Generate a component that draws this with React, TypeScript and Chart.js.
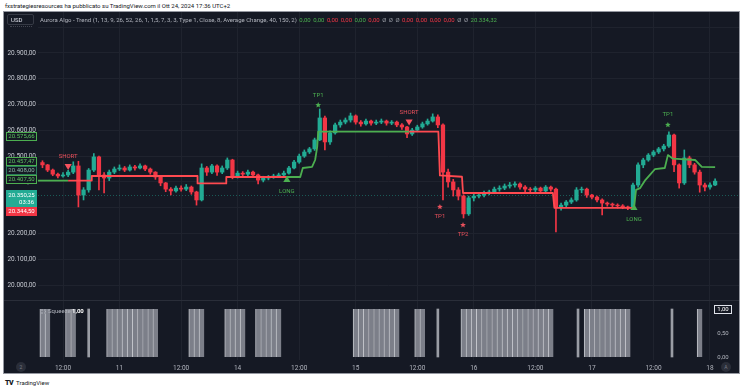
import React, { useEffect, useRef } from 'react';
import { Chart, registerables } from 'chart.js';

Chart.register(...registerables);

const FONT = 'Roboto, "Noto Sans", "DejaVu Sans", sans-serif';
const BG = '#151924';
const GRID = '#1f232e';
const TEXT = '#b2b5be';
const UP = '#22ab94';
const DOWN = '#f23645';
const LINE_GREEN = '#4caf50';
const LINE_RED = '#ff4a50';

// ---------------- data ----------------
// trading-hour index: 0 = Oct 10 12:00 (1h candles)
const firstHour = -4;
const firstOpen = 20475;
const closes = [
  20466, 20446, 20430, 20423, 20427, 20438, 20462, 20349, 20369, 20446,
  20497, 20427, 20415, 20438, 20450, 20454, 20446, 20458, 20454, 20462,
  20450, 20438, 20419, 20396, 20372, 20365, 20376, 20372, 20380, 20361,
  20330, 20454, 20438, 20462, 20438, 20454, 20485, 20423, 20434, 20430,
  20438, 20427, 20407, 20415, 20419, 20423, 20427, 20434, 20454, 20477,
  20500, 20516, 20528, 20563, 20648, 20555, 20590, 20621, 20632, 20640,
  20656, 20632, 20625, 20636, 20628, 20632, 20636, 20628, 20632, 20621,
  20613, 20586, 20601, 20613, 20625, 20636, 20652, 20621, 20438, 20400,
  20369, 20345, 20276, 20338, 20345, 20349, 20357, 20361, 20372, 20376,
  20384, 20388, 20392, 20380, 20372, 20369, 20376, 20365, 20380, 20372,
  20303, 20310, 20322, 20330, 20369, 20372, 20349, 20341, 20330, 20318,
  20314, 20310, 20307, 20303, 20299, 20388, 20466, 20485, 20504, 20516,
  20528, 20539, 20582, 20466, 20396, 20493, 20466, 20438, 20388, 20380,
  20388, 20403,
];
const highs = [
  20482, 20468, 20450, 20434, 20436, 20445, 20478, 20480, 20378, 20452,
  20510, 20500, 20436, 20446, 20458, 20466, 20460, 20466, 20464, 20470,
  20465, 20454, 20440, 20422, 20398, 20378, 20384, 20385, 20390, 20384,
  20364, 20470, 20460, 20468, 20466, 20462, 20493, 20488, 20442, 20440,
  20446, 20442, 20430, 20422, 20425, 20430, 20434, 20442, 20460, 20484,
  20508, 20524, 20534, 20570, 20683, 20655, 20598, 20628, 20640, 20648,
  20667, 20660, 20638, 20644, 20640, 20640, 20644, 20640, 20638, 20636,
  20626, 20616, 20608, 20620, 20632, 20644, 20664, 20660, 20625, 20450,
  20410, 20378, 20350, 20345, 20352, 20356, 20364, 20368, 20380, 20385,
  20392, 20398, 20400, 20396, 20386, 20378, 20382, 20380, 20386, 20384,
  20376, 20318, 20328, 20338, 20378, 20380, 20376, 20352, 20345, 20334,
  20322, 20318, 20315, 20312, 20306, 20395, 20474, 20492, 20510, 20522,
  20534, 20546, 20594, 20586, 20470, 20524, 20500, 20472, 20446, 20395,
  20396, 20412,
];
const lows = [
  20455, 20440, 20424, 20415, 20418, 20420, 20432, 20303, 20330, 20360,
  20440, 20369, 20357, 20405, 20432, 20444, 20440, 20442, 20446, 20450,
  20444, 20430, 20410, 20385, 20362, 20350, 20360, 20364, 20366, 20352,
  20310, 20326, 20425, 20432, 20425, 20432, 20448, 20412, 20415, 20420,
  20424, 20418, 20392, 20400, 20408, 20414, 20418, 20422, 20430, 20450,
  20472, 20495, 20510, 20522, 20560, 20524, 20545, 20585, 20612, 20625,
  20632, 20624, 20616, 20620, 20620, 20622, 20626, 20620, 20622, 20614,
  20604, 20572, 20580, 20596, 20608, 20620, 20632, 20610, 20330, 20380,
  20345, 20330, 20260, 20270, 20326, 20338, 20342, 20350, 20356, 20364,
  20370, 20376, 20380, 20372, 20362, 20356, 20362, 20356, 20360, 20364,
  20206, 20290, 20302, 20316, 20325, 20358, 20340, 20334, 20322, 20272,
  20306, 20300, 20298, 20296, 20292, 20295, 20380, 20455, 20480, 20498,
  20510, 20520, 20534, 20440, 20376, 20390, 20455, 20430, 20360, 20365,
  20372, 20385,
];

const timeTickHours = [0, 11, 23, 34, 46, 57, 69, 80, 92, 103, 115, 126];
const timeTickLabels = ['12:00', '11', '12:00', '14', '12:00', '15', '12:00', '16', '12:00', '17', '12:00', '18'];

const priceTicks = [20000, 20100, 20200, 20300, 20400, 20500, 20600, 20700, 20800, 20900, 21000];
const priceTickLabels = [
  '20.000,00', '20.100,00', '20.200,00', '20.300,00', '20.400,00',
  '20.500,00', '20.600,00', '20.700,00', '20.800,00', '20.900,00', '',
];

// Trend line (hour index, price, direction 1 = long / -1 = short)
const trendT = [-4.9, 1, 5.6, 5.6, 26.2, 26.2, 31.8, 31.8, 43.6, 46.2, 46.7, 48.5, 49.1, 49.5, 49.7,
  67.4, 73.1, 73.4, 77.7, 77.9, 95.4, 95.7, 111.2, 111.6, 112.4, 113.4, 114.3, 115.3, 117.2, 117.8,
  118.8, 123.1, 124.4, 127];
const trendV = [20405, 20405, 20405, 20423, 20423, 20394, 20394, 20419, 20419, 20419, 20454, 20458, 20485, 20535, 20595,
  20595, 20595, 20425, 20420, 20357, 20357, 20299, 20299, 20369, 20376, 20407, 20427, 20450, 20454, 20504,
  20490, 20485, 20458, 20457.47];
const trendDir = [1, -1, -1, -1, -1, -1, -1, -1, 1, 1, 1, 1, 1, 1, 1,
  -1, -1, -1, -1, -1, -1, -1, 1, 1, 1, 1, 1, 1, 1, 1,
  1, 1, 1, 1];

const signalT = [1, 43.6, 67.4, 111.2];
const signalV = [20458, 20411, 20630, 20303];
const signalKind = ['SHORT', 'LONG', 'SHORT', 'LONG'];

const tpT = [49.7, 73.4, 77.9, 117.8];
const tpV = [20698, 20303, 20233, 20621];
const tpLabel = ['TP1', 'TP1', 'TP2', 'TP1'];
const tpDir = [1, -1, -1, 1];

const squeezeFrom = [-4, 1, 9, 25, 32, 38, 57, 69, 78, 102, 124];
const squeezeTo = [-3, 2, 18, 27, 35, 42, 65, 70, 95, 110, 124];
const squeezeThin = [5, 73, 100.3, 118.6];
const subTicks = [0, 0.5, 1];
const subTickLabels = ['0,00', '0,50', '1,00'];

const scaleLabelValues = [20575.66, 20457.47, 20408.0, 20407.5];
const scaleLabelText = ['20.575,66', '20.457,47', '20.408,00', '20.407,50'];
const lastPrice = 20350.25;
const lastPriceText = '20.350,25';
const countdownText = '03:36';
const bidPrice = 20344.5;
const bidText = '20.344,50';

const legendTitle = 'Aurora Algo - Trend (1, 13, 9, 26, 52, 26, 1, 1,5, 7, 3, 3, Type 1, Close, 8, Average Change, 40, 150, 2)';
const legendValues = ['0,00', '0,00', '0,00', '0,00', '0,00', '0,00', 'Ø', 'Ø', 'Ø', '0,00', '0,00', '0,00', '0,00', 'Ø', 'Ø', '20.334,32'];
const legendTone = [1, 1, -1, -1, 1, -1, 0, 0, 0, -1, -1, -1, -1, 0, 0, 1];

// styles (not data)
const scaleLabelStroke = [LINE_GREEN, LINE_GREEN, '#2b7a5c', LINE_GREEN];
const scaleLabelColor = ['#5cc160', '#5cc160', '#8fb9aa', '#5cc160'];
const X_MIN = -4.87;
const X_MAX = 131.65;
const Y_MIN = 19942;
const Y_MAX = 21059;

function starPath(ctx: CanvasRenderingContext2D, cx: number, cy: number, r: number) {
  ctx.beginPath();
  for (let k = 0; k < 10; k++) {
    const rad = k % 2 === 0 ? r : r * 0.45;
    const a = -Math.PI / 2 + (k * Math.PI) / 5;
    const px = cx + Math.cos(a) * rad;
    const py = cy + Math.sin(a) * rad;
    if (k === 0) ctx.moveTo(px, py);
    else ctx.lineTo(px, py);
  }
  ctx.closePath();
}

export default function App() {
  const mainRef = useRef<HTMLCanvasElement>(null);
  const subRef = useRef<HTMLCanvasElement>(null);

  useEffect(() => {
    Chart.defaults.font.family = FONT;
    const hours = closes.map((_, i) => firstHour + i);
    const opens = closes.map((_, i) => (i === 0 ? firstOpen : closes[i - 1]));
    const candleColor = (i: number) => (closes[i] >= opens[i] ? UP : DOWN);

    const mainOverlay = {
      id: 'mainOverlay',
      beforeDatasetsDraw(chart: any) {
        const { ctx, chartArea, scales } = chart;
        const py = Math.round(scales.y.getPixelForValue(lastPrice)) + 0.5;
        ctx.save();
        ctx.strokeStyle = 'rgba(34,171,148,0.45)';
        ctx.lineWidth = 1;
        ctx.setLineDash([1, 2]);
        ctx.beginPath();
        ctx.moveTo(chartArea.left, py);
        ctx.lineTo(chartArea.right, py);
        ctx.stroke();
        ctx.restore();
      },
      afterDatasetsDraw(chart: any) {
        const { ctx, scales } = chart;
        const xs = scales.x;
        const ys = scales.y;
        ctx.save();
        ctx.font = `6px ${FONT}`;
        ctx.textAlign = 'center';
        ctx.textBaseline = 'middle';
        signalT.forEach((t, i) => {
          const px = xs.getPixelForValue(t);
          const py = ys.getPixelForValue(signalV[i]);
          ctx.beginPath();
          if (signalKind[i] === 'SHORT') {
            ctx.fillStyle = '#f7525f';
            ctx.moveTo(px - 3.6, py - 3);
            ctx.lineTo(px + 3.6, py - 3);
            ctx.lineTo(px, py + 3);
            ctx.closePath();
            ctx.fill();
            ctx.fillStyle = '#e8505b';
            ctx.fillText('SHORT', px, py - 10);
          } else {
            ctx.fillStyle = LINE_GREEN;
            ctx.moveTo(px - 3.6, py + 3);
            ctx.lineTo(px + 3.6, py + 3);
            ctx.lineTo(px, py - 3);
            ctx.closePath();
            ctx.fill();
            ctx.fillText('LONG', px, py + 12.5);
          }
        });
        tpT.forEach((t, i) => {
          const px = xs.getPixelForValue(t);
          const py = ys.getPixelForValue(tpV[i]);
          const col = tpDir[i] > 0 ? LINE_GREEN : '#e8505b';
          ctx.fillStyle = col;
          starPath(ctx, px, py, 3);
          ctx.fill();
          ctx.fillText(tpLabel[i], px, tpDir[i] > 0 ? py - 10 : py + 10);
        });
        ctx.restore();
      },
      afterDraw(chart: any) {
        const { ctx, scales } = chart;
        const ys = scales.y;
        const x0 = 2;
        const w = 31;
        ctx.save();
        ctx.font = `6px ${FONT}`;
        ctx.textAlign = 'center';
        ctx.textBaseline = 'middle';
        const pyLast = ys.getPixelForValue(lastPrice);
        const curTop = pyLast - 5;
        const curBottom = pyLast + 12;
        const order = scaleLabelValues.map((_, i) => i).sort((a, b) => scaleLabelValues[a] - scaleLabelValues[b]);
        let limit = curTop;
        order.forEach((i) => {
          const yc = Math.min(ys.getPixelForValue(scaleLabelValues[i]), limit - 4.5);
          limit = yc - 4.5;
          const top = Math.round(yc - 4.5);
          ctx.fillStyle = BG;
          ctx.fillRect(x0, top, w, 9);
          ctx.strokeStyle = scaleLabelStroke[i];
          ctx.lineWidth = 1;
          ctx.strokeRect(x0 + 0.5, top + 0.5, w - 1, 8);
          ctx.fillStyle = scaleLabelColor[i];
          ctx.fillText(scaleLabelText[i], x0 + w / 2, top + 4.8);
        });
        ctx.fillStyle = UP;
        ctx.fillRect(x0, Math.round(curTop), w, 17);
        ctx.fillStyle = '#ffffff';
        ctx.fillText(lastPriceText, x0 + w / 2, Math.round(curTop) + 5);
        ctx.textAlign = 'right';
        ctx.fillText(countdownText, x0 + w - 3, Math.round(curTop) + 12.5);
        ctx.textAlign = 'center';
        const bidTop = Math.round(Math.max(ys.getPixelForValue(bidPrice) - 4.5, curBottom));
        ctx.fillStyle = DOWN;
        ctx.fillRect(x0, bidTop, w, 9);
        ctx.fillStyle = '#ffffff';
        ctx.fillText(bidText, x0 + w / 2, bidTop + 4.8);
        ctx.restore();
      },
    };

    const main = new Chart(mainRef.current as HTMLCanvasElement, {
      type: 'bar',
      data: {
        datasets: [
          {
            type: 'line',
            data: trendT.map((t, i) => ({ x: t, y: trendV[i] })),
            borderColor: LINE_GREEN,
            borderWidth: 1.8,
            pointRadius: 0,
            tension: 0,
            borderJoinStyle: 'round',
            segment: {
              borderColor: (c: any) => (trendDir[c.p0DataIndex] > 0 ? LINE_GREEN : LINE_RED),
            },
            order: 1,
          } as any,
          {
            type: 'bar',
            data: hours.map((t, i) => ({ x: t, y: [opens[i], closes[i]] })),
            backgroundColor: (c: any) => candleColor(c.dataIndex),
            barThickness: 3.6,
            stack: 'c',
            order: 2,
          } as any,
          {
            type: 'bar',
            data: hours.map((t, i) => ({ x: t, y: [lows[i], highs[i]] })),
            backgroundColor: (c: any) => candleColor(c.dataIndex),
            barThickness: 1,
            stack: 'c',
            order: 3,
          } as any,
        ],
      },
      options: {
        responsive: false,
        maintainAspectRatio: false,
        devicePixelRatio: 1,
        animation: false,
        events: [],
        layout: { padding: 0 },
        plugins: { legend: { display: false }, tooltip: { enabled: false } },
        scales: {
          x: {
            type: 'linear',
            min: X_MIN,
            max: X_MAX,
            offset: false,
            display: true,
            afterBuildTicks: (s: any) => {
              s.ticks = timeTickHours.map((v) => ({ value: v }));
            },
            ticks: { display: false },
            grid: { color: GRID, drawTicks: false, offset: false },
            border: { display: false },
            afterFit: (s: any) => {
              s.height = 0;
              s.paddingLeft = 0;
              s.paddingRight = 0;
            },
          },
          y: {
            type: 'linear',
            position: 'left',
            min: Y_MIN,
            max: Y_MAX,
            stacked: false,
            afterBuildTicks: (s: any) => {
              s.ticks = priceTicks.map((v) => ({ value: v }));
            },
            ticks: {
              callback: (_v: any, idx: number) => priceTickLabels[idx],
              color: '#c3c6ce',
              font: { size: 6.5, family: FONT },
              padding: 2,
            },
            grid: { color: GRID, drawTicks: false },
            border: { display: false },
            afterFit: (s: any) => {
              s.width = 34;
              s.paddingTop = 0;
              s.paddingBottom = 0;
            },
          },
        },
      } as any,
      plugins: [mainOverlay],
    });

    const squeezeOn: number[] = [];
    squeezeFrom.forEach((s, k) => {
      for (let h = s; h <= squeezeTo[k]; h++) squeezeOn.push(h);
    });

    const subOverlay = {
      id: 'subOverlay',
      afterDraw(chart: any) {
        const { ctx, scales } = chart;
        const ys = scales.y;
        ctx.save();
        ctx.strokeStyle = '#2a2e39';
        ctx.lineWidth = 1;
        ctx.beginPath();
        ctx.moveTo(0, 0.5);
        ctx.lineTo(chart.width, 0.5);
        ctx.stroke();
        ctx.font = `6px ${FONT}`;
        ctx.textBaseline = 'middle';
        ctx.textAlign = 'center';
        subTicks.forEach((v, i) => {
          const py = ys.getPixelForValue(v);
          if (i === subTicks.length - 1) {
            ctx.fillStyle = BG;
            ctx.fillRect(710, Math.round(py) - 4, 18, 9);
            ctx.strokeStyle = '#e0e3eb';
            ctx.strokeRect(710.5, Math.round(py) - 3.5, 17, 8);
            ctx.fillStyle = '#ffffff';
            ctx.fillText(subTickLabels[i], 719, Math.round(py) + 0.8);
          } else {
            ctx.fillStyle = TEXT;
            ctx.fillText(subTickLabels[i], 719, py);
          }
        });
        ctx.fillStyle = '#9598a1';
        ctx.fillRect(37, 9, 2, 2);
        ctx.fillRect(40, 9, 2, 2);
        ctx.fillRect(37, 12, 2, 2);
        ctx.fillRect(40, 12, 2, 2);
        ctx.textAlign = 'left';
        ctx.fillStyle = TEXT;
        ctx.fillText('Squeeze', 44, 11);
        ctx.fillStyle = '#ffffff';
        ctx.font = `bold 6px ${FONT}`;
        ctx.fillText('1,00', 68, 11);
        ctx.restore();
      },
    };

    const sub = new Chart(subRef.current as HTMLCanvasElement, {
      type: 'bar',
      data: {
        datasets: [
          {
            data: squeezeOn.map((h) => ({ x: h, y: 1 })),
            backgroundColor: '#7c7f89',
            borderColor: '#c4c6cc',
            borderWidth: { left: 1, right: 0, top: 0, bottom: 0 },
            borderSkipped: false,
            barThickness: 5.2,
            stack: 's',
          } as any,
          {
            data: squeezeThin.map((h) => ({ x: h, y: 1 })),
            backgroundColor: '#9a9da5',
            barThickness: 2,
            stack: 's',
          } as any,
        ],
      },
      options: {
        responsive: false,
        maintainAspectRatio: false,
        devicePixelRatio: 1,
        animation: false,
        events: [],
        layout: { padding: { left: 34, right: 0, top: 0, bottom: 0 } },
        plugins: { legend: { display: false }, tooltip: { enabled: false } },
        scales: {
          x: {
            type: 'linear',
            min: X_MIN,
            max: X_MAX,
            offset: false,
            afterBuildTicks: (s: any) => {
              s.ticks = timeTickHours.map((v) => ({ value: v }));
            },
            ticks: {
              callback: (_v: any, idx: number) => timeTickLabels[idx],
              color: TEXT,
              font: { size: 6.5, family: FONT },
              maxRotation: 0,
              autoSkip: false,
              padding: 4,
            },
            grid: { color: GRID, drawTicks: false, offset: false },
            border: { display: false },
            afterFit: (s: any) => {
              s.height = 13;
              s.paddingLeft = 0;
              s.paddingRight = 0;
            },
          },
          y: {
            type: 'linear',
            display: false,
            min: -0.0625,
            max: 1.1875,
            stacked: false,
          },
        },
      } as any,
      plugins: [subOverlay],
    });

    return () => {
      main.destroy();
      sub.destroy();
    };
  }, []);

  const toneColor = (t: number) => (t > 0 ? '#4caf50' : t < 0 ? '#f23645' : '#9598a1');

  return (
    <div
      style={{
        position: 'fixed',
        left: 0,
        top: 0,
        width: 743,
        height: 390,
        background: '#ffffff',
        overflow: 'hidden',
        fontFamily: FONT,
      }}
    >
      <div style={{ position: 'absolute', left: 5, top: 0, fontSize: 6, lineHeight: '11px', color: '#131722', whiteSpace: 'nowrap' }}>
        fxstrategiesresources ha pubblicato su TradingView.com il Ott 24, 2024 17:36 UTC+2
      </div>
      <div
        style={{
          position: 'absolute',
          left: 4,
          top: 12,
          width: 735,
          height: 361,
          background: BG,
          boxShadow: '0 0 0 1px #9598a1',
        }}
      />
      <canvas
        ref={mainRef}
        width={735}
        height={288}
        style={{ position: 'absolute', left: 4, top: 12, width: 735, height: 288 }}
      />
      <canvas
        ref={subRef}
        width={735}
        height={73}
        style={{ position: 'absolute', left: 4, top: 300, width: 735, height: 73 }}
      />
      <div
        style={{
          position: 'absolute',
          left: 7,
          top: 14,
          width: 27,
          height: 11,
          border: '1px solid #363a45',
          borderRadius: 2,
          boxSizing: 'border-box',
          color: '#e0e3eb',
          fontSize: 6,
          lineHeight: '9px',
          paddingLeft: 3,
        }}
      >
        USD
      </div>
      <div style={{ position: 'absolute', left: 10, top: 26, width: 22, borderBottom: '1px dotted #434651' }} />
      <div
        style={{
          position: 'absolute',
          left: 40,
          top: 14,
          height: 10,
          display: 'flex',
          alignItems: 'center',
          whiteSpace: 'nowrap',
          fontSize: 6,
          color: TEXT,
        }}
      >
        <span>{legendTitle}</span>
        {legendValues.map((v, i) => (
          <span key={i} style={{ marginLeft: 2.5, color: toneColor(legendTone[i]) }}>
            {v}
          </span>
        ))}
      </div>
      <div
        style={{
          position: 'absolute',
          left: 16,
          top: 362,
          width: 10,
          height: 10,
          borderRadius: 5,
          background: '#2a2e39',
          color: '#787b86',
          fontSize: 5,
          lineHeight: '10px',
          textAlign: 'center',
        }}
      >
        2
      </div>
      <div
        style={{
          position: 'absolute',
          left: 721,
          top: 362,
          width: 10,
          height: 10,
          borderRadius: 5,
          background: '#2a2e39',
          color: '#787b86',
          fontSize: 5,
          lineHeight: '10px',
          textAlign: 'center',
        }}
      >
        A
      </div>
      <div
        style={{
          position: 'absolute',
          left: 5,
          top: 378,
          fontSize: 6,
          lineHeight: '10px',
          color: '#131722',
          whiteSpace: 'nowrap',
        }}
      >
        <span style={{ fontWeight: 900, fontSize: 7, letterSpacing: -0.5, marginRight: 3 }}>TV</span>
        TradingView
      </div>
    </div>
  );
}
